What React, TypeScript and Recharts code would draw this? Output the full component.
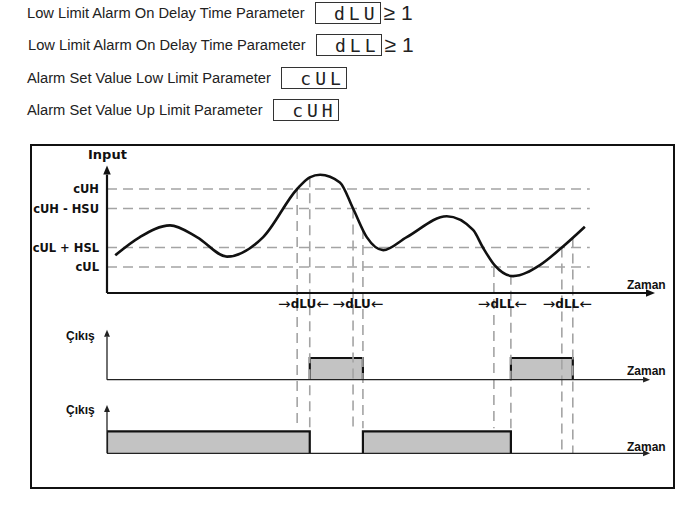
import React from "react";
import {
  ComposedChart,
  Line,
  Area,
  XAxis,
  YAxis,
  ReferenceLine,
  ReferenceDot,
} from "recharts";

// header rows
const PARAM_LABELS = [
  "Low Limit Alarm On Delay Time Parameter",
  "Low Limit Alarm On Delay Time Parameter",
  "Alarm Set Value Low Limit Parameter",
  "Alarm Set Value Up Limit Parameter",
];
const PARAM_CODES = ["dLU", "dLL", "cUL", "cUH"];
const PARAM_SUFFIX = ["≥ 1", "≥ 1", "", ""];

// input levels (y ticks)
const LEVEL_NAMES = ["cUL", "cUL + HSL", "cUH - HSU", "cUH"];
const LEVEL_VALUES = [20, 35, 65, 80];

// input curve
const TIME = [1.5, 6, 11.5, 16.4, 21.9, 28.5, 34.7, 37, 38.9, 42.5, 44.9, 47.4, 50.4, 54.7, 62, 66.8, 68.6, 70.8, 74.1, 79, 83, 87.2];
const INPUT = [29, 43, 52, 43, 28, 43, 80, 89, 91, 85, 65, 43, 33, 43, 59, 48.5, 35, 21, 13, 21.5, 35, 51];

// delay windows
const DELAY_NAMES = ["dLU", "dLU", "dLL", "dLL"];
const DELAY_START = [34.7, 44.9, 70.6, 83.0];
const DELAY_END = [37.0, 46.7, 73.7, 85.0];
const DELAY_LEVEL = [80, 65, 20, 35];

// outputs
const OUT1_ON = [37.0, 73.7];
const OUT1_OFF = [46.7, 85.0];
const OUT2_ON = [0, 46.7];
const OUT2_OFF = [37.0, 73.7];

const curveData = TIME.map((t, i) => ({ t, v: INPUT[i] }));

const pulseData = (on: number[], off: number[]) => {
  const rows: { t: number; v: number | null }[] = [];
  on.forEach((a, i) => {
    const b = off[i];
    rows.push({ t: a, v: 0 }, { t: a, v: 1 }, { t: b, v: 1 }, { t: b, v: 0 });
    rows.push({ t: b, v: null });
  });
  return rows;
};

const curveAt = (t: number) => {
  for (let i = 0; i < TIME.length - 1; i++) {
    if (t >= TIME[i] && t <= TIME[i + 1]) {
      const k = (t - TIME[i]) / (TIME[i + 1] - TIME[i]);
      return INPUT[i] + k * (INPUT[i + 1] - INPUT[i]);
    }
  }
  return 0;
};

const arrowShape = (color: string, width: number, size: number) => (p: any) => {
  const { x1, y1, x2, y2 } = p;
  const a = Math.atan2(y2 - y1, x2 - x1);
  const c = Math.cos(a);
  const s = Math.sin(a);
  const bx = x2 - size * c;
  const by = y2 - size * s;
  const w = size * 0.42;
  return (
    <g>
      <line x1={x1} y1={y1} x2={bx} y2={by} stroke={color} strokeWidth={width} />
      <polygon
        points={`${x2},${y2} ${bx + w * s},${by - w * c} ${bx - w * s},${by + w * c}`}
        fill={color}
      />
    </g>
  );
};

const dashStyle = { stroke: "#a4a4a4", strokeWidth: 1.6, strokeDasharray: "10 6" };
const boldFont = "'DejaVu Sans', sans-serif";
const armFont = "'Liberation Sans', Arial, sans-serif";

const Label = ({ text, left, top, size = 12, font = armFont }: any) => (
  <div
    style={{
      position: "absolute",
      left,
      top: top - size * 0.6,
      fontFamily: font,
      fontSize: size,
      fontWeight: "bold",
      color: "#111",
      lineHeight: `${size * 1.2}px`,
      whiteSpace: "nowrap",
    }}
  >
    {text}
  </div>
);

const HeaderRow = ({ i, top, left }: any) => (
  <div
    style={{
      position: "absolute",
      left,
      top: top - 12,
      height: 24,
      display: "flex",
      alignItems: "center",
      fontFamily: armFont,
      fontSize: 14.7,
      color: "#222",
      whiteSpace: "nowrap",
    }}
  >
    <span>{PARAM_LABELS[i]}</span>
    <span
      style={{
        marginLeft: 10,
        width: 66,
        height: 22,
        border: "1.3px solid #333",
        boxSizing: "border-box",
        display: "flex",
        alignItems: "center",
        justifyContent: "flex-end",
        paddingRight: 1,
        fontFamily: "'DejaVu Sans Mono', monospace",
        fontSize: 18,
        letterSpacing: 4,
        color: "#222",
      }}
    >
      {PARAM_CODES[i]}
    </span>
    {PARAM_SUFFIX[i] && (
      <span style={{ marginLeft: 3, fontSize: 21 }}>{PARAM_SUFFIX[i]}</span>
    )}
  </div>
);

export default function App() {
  return (
    <div style={{ position: "fixed", left: 0, top: 0, width: 691, height: 518, background: "#fff" }}>
      {[13, 45, 78, 110].map((y, i) => (
        <HeaderRow key={i} i={i} top={y} left={i === 1 ? 28 : 27} />
      ))}

      <div
        style={{
          position: "absolute",
          left: 30,
          top: 144,
          width: 645,
          height: 345,
          border: "2px solid #111",
          boxSizing: "border-box",
        }}
      />

      <div style={{ position: "absolute", left: 30, top: 144 }}>
        <ComposedChart width={645} height={345} margin={{ top: 19, right: 20, bottom: 33.5, left: 0 }}>
          <XAxis type="number" dataKey="t" domain={[0, 100]} allowDataOverflow hide />
          <YAxis
            yAxisId="in"
            type="number"
            domain={[-125, 100]}
            allowDataOverflow
            ticks={LEVEL_VALUES}
            tickFormatter={(v) => LEVEL_NAMES[LEVEL_VALUES.indexOf(v)] ?? ""}
            axisLine={false}
            tickLine={false}
            tickSize={0}
            tickMargin={8}
            width={77}
            tick={{ fill: "#111", fontSize: 11.5, fontWeight: "bold", fontFamily: boldFont }}
          />
          <YAxis yAxisId="o1" type="number" domain={[-3.5, 10]} allowDataOverflow hide />
          <YAxis yAxisId="o2" type="number" domain={[-0.1, 13.2]} allowDataOverflow hide />

          <Area
            yAxisId="o1"
            data={pulseData(OUT1_ON, OUT1_OFF)}
            dataKey="v"
            type="linear"
            baseValue={0}
            fill="#c3c3c3"
            fillOpacity={1}
            stroke="#111"
            strokeWidth={2.2}
            isAnimationActive={false}
          />
          <Area
            yAxisId="o2"
            data={pulseData(OUT2_ON, OUT2_OFF)}
            dataKey="v"
            type="linear"
            baseValue={0}
            fill="#c3c3c3"
            fillOpacity={1}
            stroke="#111"
            strokeWidth={2.2}
            isAnimationActive={false}
          />

          {LEVEL_VALUES.map((v) => (
            <ReferenceLine
              key={`h${v}`}
              yAxisId="in"
              segment={[{ x: 0, y: v }, { x: 88.1, y: v }]}
              ifOverflow="visible"
              {...dashStyle}
            />
          ))}

          {DELAY_START.map((a, i) => {
            const b = DELAY_END[i];
            const bottom = i === 3 ? -123 : -104;
            return (
              <React.Fragment key={`d${i}`}>
                <ReferenceLine
                  yAxisId="in"
                  segment={[{ x: a, y: DELAY_LEVEL[i] }, { x: a, y: bottom }]}
                  ifOverflow="visible"
                  {...dashStyle}
                />
                <ReferenceLine
                  yAxisId="in"
                  segment={[{ x: b, y: curveAt(b) }, { x: b, y: bottom }]}
                  ifOverflow="visible"
                  {...dashStyle}
                />
                <ReferenceDot
                  yAxisId="in"
                  x={(a + b) / 2}
                  y={-8.5}
                  r={0}
                  ifOverflow="visible"
                  shape={(p: any) => (
                    <text
                      x={p.cx}
                      y={p.cy}
                      textAnchor="middle"
                      dominantBaseline="central"
                      fontFamily={boldFont}
                      fontSize={12}
                      fill="#111"
                    >
                      <tspan fontWeight="normal" fontSize={15}>→</tspan>
                      <tspan fontWeight="bold">{DELAY_NAMES[i]}</tspan>
                      <tspan fontWeight="normal" fontSize={15}>←</tspan>
                    </text>
                  )}
                />
              </React.Fragment>
            );
          })}

          <Line
            yAxisId="in"
            data={curveData}
            dataKey="v"
            type="monotone"
            stroke="#111"
            strokeWidth={2.6}
            dot={false}
            isAnimationActive={false}
          />

          {/* input axes */}
          <ReferenceLine
            yAxisId="in"
            segment={[{ x: 0, y: 0 }, { x: 100, y: 0 }]}
            ifOverflow="visible"
            shape={arrowShape("#111", 2.2, 9)}
          />
          <ReferenceLine
            yAxisId="in"
            segment={[{ x: 0, y: 0 }, { x: 0, y: 98 }]}
            ifOverflow="visible"
            shape={arrowShape("#111", 2.2, 9)}
          />
          {/* output axes */}
          <ReferenceLine
            yAxisId="o1"
            segment={[{ x: 0, y: 0 }, { x: 99.1, y: 0 }]}
            ifOverflow="visible"
            shape={arrowShape("#222", 1.3, 7)}
          />
          <ReferenceLine
            yAxisId="o1"
            segment={[{ x: 0, y: 0 }, { x: 0, y: 2.3 }]}
            ifOverflow="visible"
            shape={arrowShape("#222", 1.3, 7)}
          />
          <ReferenceLine
            yAxisId="o2"
            segment={[{ x: 0, y: 0 }, { x: 99.1, y: 0 }]}
            ifOverflow="visible"
            shape={arrowShape("#222", 1.3, 7)}
          />
          <ReferenceLine
            yAxisId="o2"
            segment={[{ x: 0, y: 0 }, { x: 0, y: 2.2 }]}
            ifOverflow="visible"
            shape={arrowShape("#222", 1.3, 7)}
          />
        </ComposedChart>
      </div>

      <Label text="Input" left={88} top={155} size={13} font={boldFont} />
      <Label text="Çıkış" left={66} top={336} />
      <Label text="Çıkış" left={66} top={410} />
      <Label text="Zaman" left={627} top={285} />
      <Label text="Zaman" left={627} top={371} />
      <Label text="Zaman" left={627} top={447} />
    </div>
  );
}
